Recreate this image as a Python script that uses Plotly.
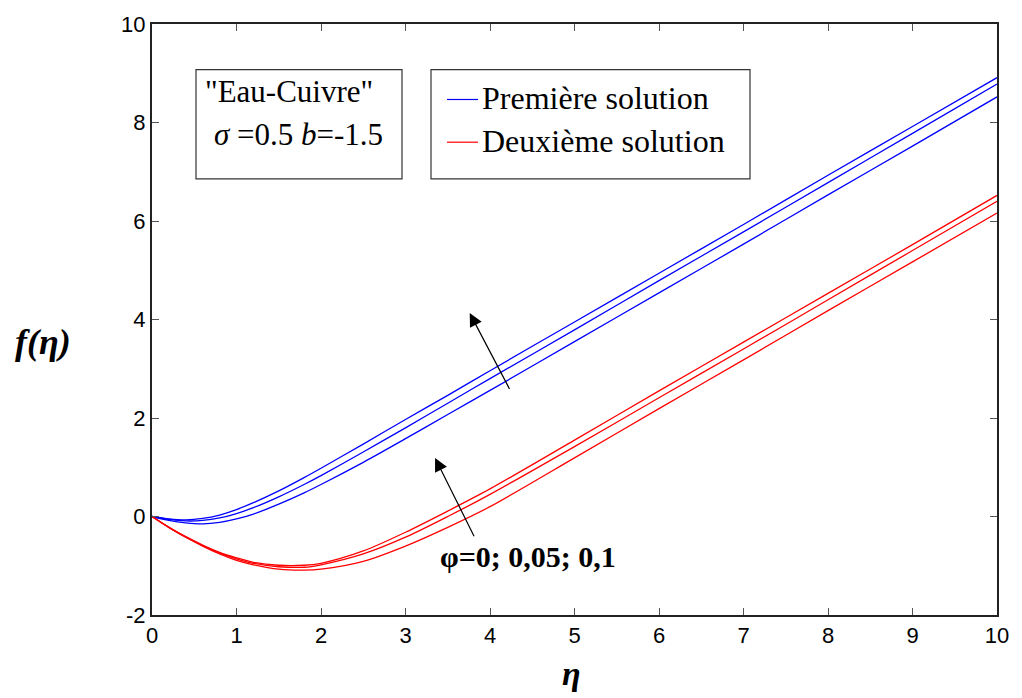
import plotly.graph_objects as go

# eta grid (x values read at these positions)
eta = [0, 0.2, 0.4, 0.6, 0.8, 1.0, 1.2, 1.5, 1.8, 2.0, 2.5, 3.0, 3.5, 4.0, 5.0, 6.0, 7.0, 8.0, 9.0, 10.0]

# First solution (blue), phi = 0, 0.05, 0.1
blue_phi0 = [0, -0.08, -0.13, -0.15, -0.12, -0.05, 0.05, 0.25, 0.48, 0.65, 1.10, 1.58, 2.07, 2.56, 3.55, 4.54, 5.53, 6.53, 7.52, 8.52]
blue_phi005 = [0, -0.06, -0.09, -0.08, -0.03, 0.06, 0.18, 0.40, 0.65, 0.83, 1.31, 1.80, 2.30, 2.80, 3.79, 4.79, 5.78, 6.78, 7.78, 8.78]
blue_phi01 = [0, -0.05, -0.07, -0.04, 0.03, 0.14, 0.28, 0.52, 0.79, 0.98, 1.47, 1.97, 2.46, 2.96, 3.95, 4.94, 5.93, 6.93, 7.92, 8.91]

# Second solution (red), phi = 0, 0.05, 0.1
red_phi0 = [0, -0.22, -0.42, -0.60, -0.76, -0.89, -0.98, -1.07, -1.09, -1.07, -0.91, -0.60, -0.22, 0.20, 1.19, 2.19, 3.18, 4.18, 5.17, 6.16]
red_phi005 = [0, -0.22, -0.42, -0.59, -0.74, -0.86, -0.95, -1.02, -1.03, -0.98, -0.76, -0.42, 0.00, 0.45, 1.42, 2.41, 3.40, 4.40, 5.40, 6.40]
red_phi01 = [0, -0.22, -0.41, -0.58, -0.73, -0.84, -0.93, -0.99, -0.99, -0.95, -0.70, -0.32, 0.11, 0.56, 1.55, 2.55, 3.54, 4.53, 5.52, 6.52]

x_ticks = [0, 1, 2, 3, 4, 5, 6, 7, 8, 9, 10]
y_ticks = [-2, 0, 2, 4, 6, 8, 10]
y_ticktext = ["-2", "0", "2", "4", "6", "8", "10"]

BLUE = "#0000ff"
RED = "#ff0000"
SERIF = "Liberation Serif, Times New Roman, serif"
SANS = "Liberation Sans, Arial, sans-serif"

fig = go.Figure()
for name, ys in [("φ=0", blue_phi0), ("φ=0,05", blue_phi005), ("φ=0,1", blue_phi01)]:
    fig.add_trace(go.Scatter(x=eta, y=ys, mode="lines",
                             line=dict(color=BLUE, width=1.3, shape="spline", smoothing=0.8),
                             name="Première solution " + name, showlegend=False))
for name, ys in [("φ=0", red_phi0), ("φ=0,05", red_phi005), ("φ=0,1", red_phi01)]:
    fig.add_trace(go.Scatter(x=eta, y=ys, mode="lines",
                             line=dict(color=RED, width=1.3, shape="spline", smoothing=0.8),
                             name="Deuxième solution " + name, showlegend=False))

axis_common = dict(
    showline=True, linecolor="#222222", linewidth=2, mirror="ticks",
    ticks="inside", ticklen=7, tickcolor="#555555", tickwidth=1,
    showgrid=False, zeroline=False,
    tickfont=dict(family=SANS, size=22, color="black"),
)
fig.update_xaxes(range=[0, 10], tickvals=x_ticks, **axis_common)
fig.update_yaxes(range=[-2, 10], tickvals=y_ticks, ticktext=y_ticktext, **axis_common)

W, H = 1022, 698
L, R, T, B = 152, 25, 20, 83
pw, ph = W - L - R, H - T - B

def px(x):
    return (x - L) / pw

def py(y):
    return (H - B - y) / ph

shapes = [
    # parameter box
    dict(type="rect", xref="paper", yref="paper", x0=px(196), x1=px(402), y0=py(176), y1=py(66),
         line=dict(color="#333333", width=1.2), fillcolor="white"),
    # legend box
    dict(type="rect", xref="paper", yref="paper", x0=px(431), x1=px(750), y0=py(176), y1=py(66),
         line=dict(color="#333333", width=1.2), fillcolor="white"),
    dict(type="line", xref="paper", yref="paper", x0=px(447), x1=px(478), y0=py(96), y1=py(96),
         line=dict(color=BLUE, width=1.2)),
    dict(type="line", xref="paper", yref="paper", x0=px(447), x1=px(478), y0=py(139), y1=py(139),
         line=dict(color=RED, width=1.2)),
]
fig.update_layout(shapes=shapes)

ann = [
    dict(xref="paper", yref="paper", x=px(203), y=py(88), text='"Eau-Cuivre"', showarrow=False,
         xanchor="left", yanchor="middle", font=dict(family=SERIF, size=31, color="black")),
    dict(xref="paper", yref="paper", x=px(212), y=py(131), text='<i>σ</i> =0.5 <i>b</i>=-1.5', showarrow=False,
         xanchor="left", yanchor="middle", font=dict(family=SERIF, size=31, color="black")),
    dict(xref="paper", yref="paper", x=px(480), y=py(95), text="Première solution", showarrow=False,
         xanchor="left", yanchor="middle", font=dict(family=SERIF, size=32, color="black")),
    dict(xref="paper", yref="paper", x=px(480), y=py(138), text="Deuxième solution", showarrow=False,
         xanchor="left", yanchor="middle", font=dict(family=SERIF, size=32, color="black")),
    # axis titles
    dict(xref="paper", yref="paper", x=px(571), y=py(674), text="<b><i>η</i></b>", showarrow=False,
         xanchor="center", yanchor="middle", font=dict(family=SERIF, size=34, color="black")),
    dict(xref="paper", yref="paper", x=px(43), y=py(340), text="<b><i>f(η)</i></b>", showarrow=False,
         xanchor="center", yanchor="middle", font=dict(family=SERIF, size=36, color="black")),
    # phi label
    dict(x=4.45, y=-0.82, xref="x", yref="y", text="<b>φ=0; 0,05; 0,1</b>", showarrow=False,
         xanchor="center", yanchor="middle", font=dict(family=SERIF, size=30, color="black")),
    # arrows
    dict(x=3.76, y=4.13, ax=4.24, ay=2.56, xref="x", yref="y", axref="x", ayref="y", text="",
         showarrow=True, arrowhead=2, arrowsize=2.2, arrowwidth=1.2, arrowcolor="black"),
    dict(x=3.35, y=1.19, ax=3.82, ay=-0.43, xref="x", yref="y", axref="x", ayref="y", text="",
         showarrow=True, arrowhead=2, arrowsize=2.2, arrowwidth=1.2, arrowcolor="black"),
]
fig.update_layout(annotations=ann)

fig.update_layout(
    width=W, height=H,
    margin=dict(l=L, r=R, t=T, b=B),
    paper_bgcolor="white", plot_bgcolor="white",
    showlegend=False,
)

fig.write_html("out.html")
